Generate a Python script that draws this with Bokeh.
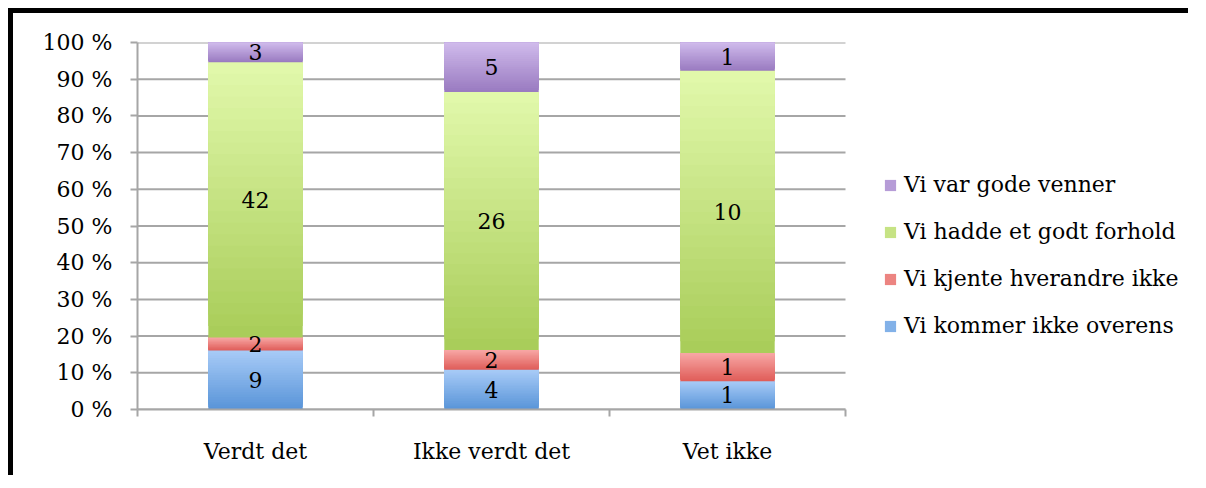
from bokeh.plotting import figure
from bokeh.models import (ColumnDataSource, FixedTicker, PrintfTickFormatter, Legend,
                          LegendItem, LabelSet, Range1d)
from bokeh.core.properties import value
from bokeh.embed import file_html
from bokeh.resources import INLINE

categories = ["Verdt det", "Ikke verdt det", "Vet ikke"]
series_names = ["Vi kommer ikke overens", "Vi kjente hverandre ikke",
                "Vi hadde et godt forhold", "Vi var gode venner"]
kommer_ikke_overens = [9, 4, 1]
kjente_hverandre_ikke = [2, 2, 1]
godt_forhold = [42, 26, 10]
gode_venner = [3, 5, 1]
y_ticks = [0, 10, 20, 30, 40, 50, 60, 70, 80, 90, 100]

series_values = [kommer_ikke_overens, kjente_hverandre_ikke, godt_forhold, gode_venner]
# (light top colour, dark bottom colour) of each series' gradient
gradients = [((0xa8, 0xcb, 0xf7), (0x58, 0x94, 0xd8)),
             ((0xf8, 0xa8, 0xa6), (0xdf, 0x5c, 0x58)),
             ((0xe2, 0xf9, 0xac), (0xa8, 0xcc, 0x58)),
             ((0xd0, 0xbb, 0xec), (0x99, 0x7a, 0xc0))]

FONT = "DejaVu Serif"
FS = "22px"
GREY = "#a6a6a6"
N_SLICES = 24

W, H = 1180, 467
LEFT, TOP, BOTTOM = 124, 29, 71
PLOT_W = 708                      # pixel width of the category area
frame_w = W - LEFT

totals = [sum(s[i] for s in series_values) for i in range(len(categories))]
xs = [i + 0.5 for i in range(len(categories))]
ncat = len(categories)

p = figure(width=W, height=H, x_range=Range1d(0, ncat * frame_w / PLOT_W), y_range=Range1d(0, 100),
           output_backend="svg", toolbar_location=None,
           min_border_left=LEFT, min_border_right=0, min_border_top=TOP, min_border_bottom=BOTTOM)
p.outline_line_color = None
p.background_fill_color = "white"
p.border_fill_color = "white"
p.xgrid.visible = False
p.ygrid.visible = False

# horizontal gridlines across the category area only
p.segment(x0=[0] * len(y_ticks), x1=[ncat] * len(y_ticks), y0=y_ticks, y1=y_ticks,
          line_color=GREY, line_width=2)


def mix(c1, c2, f):
    return "#%02x%02x%02x" % tuple(round(a + (b - a) * f) for a, b in zip(c1, c2))


renderers = []
bottoms = [0.0] * ncat
for name, vals, (light, dark) in zip(series_names, series_values, gradients):
    pct = [v / t * 100 for v, t in zip(vals, totals)]
    tops = [b + q for b, q in zip(bottoms, pct)]
    sx, sb, st, sc = [], [], [], []
    for x, b, t in zip(xs, bottoms, tops):
        # each slice reaches the segment top; later (lighter) slices cover the upper part
        for k in range(N_SLICES):
            sx.append(x)
            sb.append(b + (t - b) * k / N_SLICES)
            st.append(t)
            sc.append(mix(dark, light, (k + 0.5) / N_SLICES))
    r = p.vbar(x=sx, bottom=sb, top=st, width=0.4, fill_color=sc, line_color=None)
    renderers.append((name, r))
    src = ColumnDataSource(dict(x=xs, mid=[(b + t) / 2 for b, t in zip(bottoms, tops)],
                                label=[str(v) for v in vals]))
    p.add_layout(LabelSet(x="x", y="mid", text="label", source=src,
                          text_align="center", text_baseline="middle",
                          text_font=value(FONT), text_font_size=value(FS),
                          text_color="black"))
    bottoms = tops

# axes
p.yaxis.ticker = FixedTicker(ticks=y_ticks)
p.yaxis.formatter = PrintfTickFormatter(format="%d %%")
p.yaxis.axis_line_color = GREY
p.yaxis.axis_line_width = 2
p.yaxis.major_tick_line_color = GREY
p.yaxis.major_tick_line_width = 2
p.yaxis.major_tick_out = 7
p.yaxis.major_tick_in = 0
p.yaxis.minor_tick_line_color = None
p.yaxis.major_label_text_font = FONT
p.yaxis.major_label_text_font_size = FS
p.yaxis.major_label_text_color = "black"
p.yaxis.major_label_standoff = 18

p.xaxis.bounds = (0, ncat)
p.xaxis.ticker = FixedTicker(ticks=xs, minor_ticks=list(range(ncat + 1)))
p.xaxis.major_label_overrides = {x: c for x, c in zip(xs, categories)}
p.xaxis.axis_line_color = GREY
p.xaxis.axis_line_width = 2
p.xaxis.major_tick_line_color = None
p.xaxis.minor_tick_line_color = GREY
p.xaxis.minor_tick_line_width = 2
p.xaxis.minor_tick_out = 7
p.xaxis.minor_tick_in = 0
p.xaxis.major_label_text_font = FONT
p.xaxis.major_label_text_font_size = FS
p.xaxis.major_label_text_color = "black"
p.xaxis.major_label_standoff = 22

items = [LegendItem(label=name, renderers=[r], index=N_SLICES // 2)
         for name, r in reversed(renderers)]
legend = Legend(items=items, location=(PLOT_W + 38, 71), padding=0, margin=0,
                border_line_color=None, background_fill_alpha=0,
                glyph_width=14, glyph_height=14, label_height=20, spacing=22,
                label_standoff=7, label_text_font=FONT, label_text_font_size=FS,
                label_text_color="black")
p.add_layout(legend)

p.styles = {"margin-left": "8px", "margin-top": "8px",
            "border-left": "5px solid #000", "border-top": "5px solid #000"}

open("out.html", "w").write(file_html(p, INLINE))
